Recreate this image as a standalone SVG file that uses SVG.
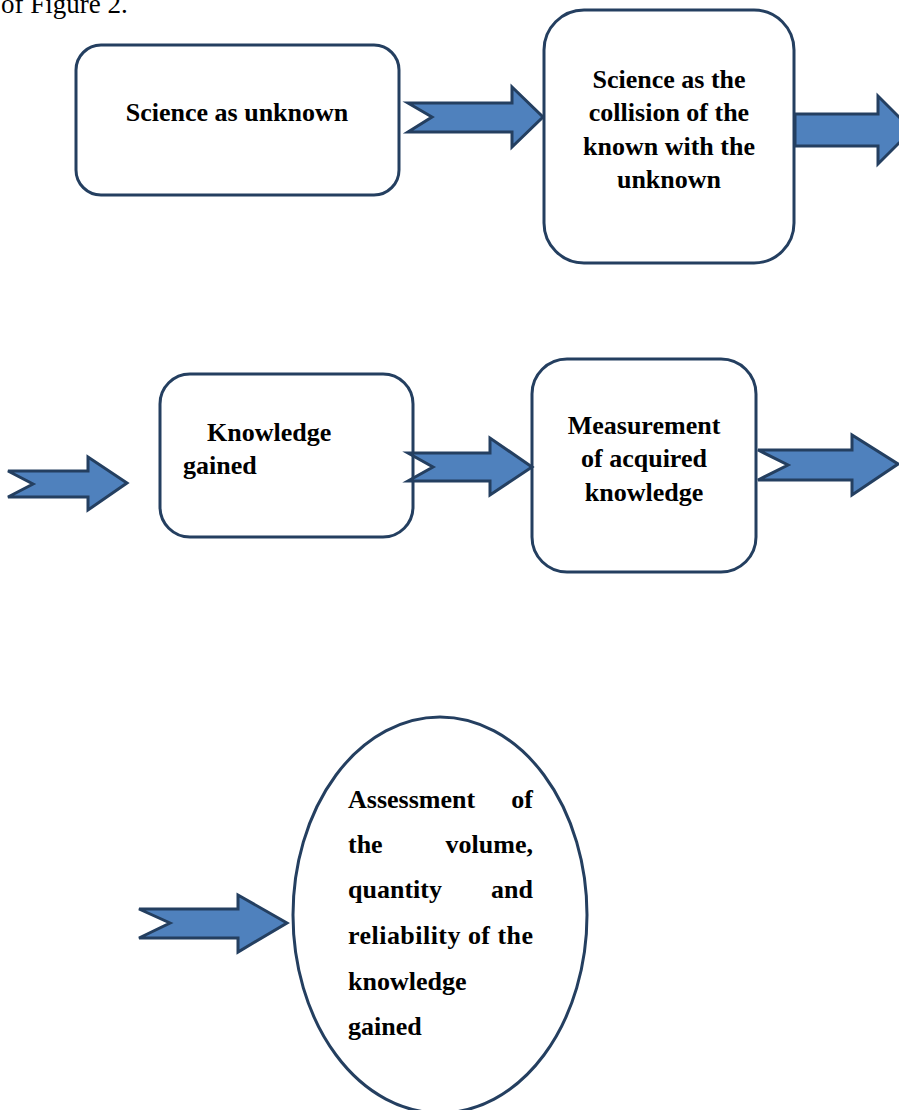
<svg xmlns="http://www.w3.org/2000/svg" width="899" height="1110" viewBox="0 0 899 1110">
<style>
.box{fill:#fff;stroke:#243F60;stroke-width:3}
.arr{fill:#4F81BD;stroke:#243F60;stroke-width:3;stroke-linejoin:miter}
.t{font-family:"Liberation Serif","Times New Roman",serif;font-size:26px;font-weight:bold;fill:#000}
.c{text-anchor:middle}
.e{text-anchor:end}
.h{font-family:"Liberation Serif","Times New Roman",serif;font-size:27px;fill:#000}
</style>
<rect width="899" height="1110" fill="#fff"/>
<text class="h" x="1" y="13">of Figure 2.</text>
<g id="n1"><rect class="box" x="76" y="45" width="323" height="150" rx="25"/>
<text class="t c" x="237" y="121">Science as unknown</text></g>
<g id="n2"><rect class="box" x="544" y="10" width="250" height="253" rx="40"/>
<text class="t c" x="669" y="88">Science as the</text>
<text class="t c" x="669" y="121">collision of the</text>
<text class="t c" x="669" y="155">known with the</text>
<text class="t c" x="669" y="188">unknown</text></g>
<g id="n3"><rect class="box" x="160" y="374" width="253" height="163" rx="30"/>
<text class="t" x="207" y="441">Knowledge</text>
<text class="t" x="183" y="474">gained</text></g>
<g id="n4"><rect class="box" x="532" y="359" width="224" height="213" rx="35"/>
<text class="t c" x="644" y="434">Measurement</text>
<text class="t c" x="644" y="467">of acquired</text>
<text class="t c" x="644" y="501">knowledge</text></g>
<g id="n5"><ellipse class="box" cx="440" cy="915" rx="147" ry="198"/>
<text class="t" x="348" y="808">Assessment</text><text class="t e" x="533" y="808">of</text>
<text class="t" x="348" y="853">the</text><text class="t e" x="533" y="853">volume,</text>
<text class="t" x="348" y="898">quantity</text><text class="t e" x="533" y="898">and</text>
<text class="t" x="348" y="944" textLength="185" lengthAdjust="spacing">reliability of the</text>
<text class="t" x="348" y="990">knowledge</text>
<text class="t" x="348" y="1035">gained</text></g>
<g id="connectors">
<polygon class="arr" points="408,103 512,103 512,87 543,117 512,147 512,132 408,132 432,117"/>
<polygon class="arr" points="795,114 878,114 878,96 912,130 878,164 878,146 795,146"/>
<polygon class="arr" points="8,471 88,471 88,457 127,483 88,510 88,497 8,497 33,484"/>
<polygon class="arr" points="408,453 490,453 490,438 532,467 490,495 490,481 408,481 433,467"/>
<polygon class="arr" points="758,450 852,450 852,435 898,464 852,495 852,480 758,480 788,465"/>
<polygon class="arr" points="139,909 238,909 238,895 287,923 238,952 238,938 139,938 170,923"/>
</g>
</svg>
